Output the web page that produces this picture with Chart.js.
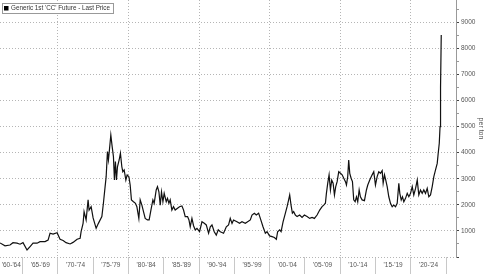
<!DOCTYPE html>
<html>
<head>
<meta charset="utf-8">
<script src="https://cdn.jsdelivr.net/npm/chart.js@4.4.1/dist/chart.umd.min.js"></script>
<style>
  html, body { margin: 0; padding: 0; background: #fff; }
  #wrap { width: 485px; height: 274px; position: relative; }
</style>
</head>
<body>
<div id="wrap"><canvas id="cocoaChart"></canvas></div>
<script>
// Generic 1st 'CC' Future - Last Price, USD per ton
const legendText = "Generic 1st 'CC' Future - Last Price";

const years = [
  1961.80, 1962.51, 1963.22, 1963.64, 1964.21, 1964.64, 1965.06, 1965.63, 1966.06, 1966.48,
  1967.05, 1967.47, 1968.18, 1968.61, 1968.89, 1969.32, 1969.89, 1970.31, 1970.74, 1971.16,
  1971.73, 1972.15, 1972.72, 1973.15, 1973.29, 1973.57, 1973.71, 1974.00, 1974.28, 1974.42,
  1974.71, 1974.99, 1975.42, 1975.74, 1976.23, 1976.45, 1976.69, 1976.84, 1977.02, 1977.16,
  1977.30, 1977.50, 1977.69, 1977.87, 1978.01, 1978.15, 1978.30, 1978.44, 1978.68, 1978.86,
  1979.06, 1979.20, 1979.39, 1979.63, 1979.81, 1980.06, 1980.24, 1980.42, 1980.71, 1980.99,
  1981.19, 1981.47, 1981.66, 1981.90, 1982.13, 1982.37, 1982.69, 1982.93, 1983.18, 1983.46,
  1983.64, 1983.93, 1984.11, 1984.31, 1984.50, 1984.68, 1984.88, 1985.06, 1985.35, 1985.53,
  1985.73, 1985.91, 1986.15, 1986.38, 1986.62, 1986.95, 1987.23, 1987.57, 1987.80, 1988.04,
  1988.37, 1988.57, 1988.75, 1988.99, 1989.22, 1989.46, 1989.70, 1990.07, 1990.41, 1990.74,
  1991.02, 1991.35, 1991.59, 1991.83, 1992.15, 1992.44, 1992.72, 1993.01, 1993.47, 1993.86,
  1994.18, 1994.42, 1994.67, 1994.89, 1995.37, 1995.74, 1996.08, 1996.55, 1996.88, 1997.26,
  1997.50, 1997.83, 1998.11, 1998.44, 1998.68, 1999.06, 1999.39, 1999.63, 1999.99, 2000.34,
  2000.67, 2000.95, 2001.13, 2001.42, 2001.62, 2001.90, 2002.23, 2002.47, 2002.69, 2002.84,
  2003.03, 2003.22, 2003.40, 2003.64, 2003.89, 2004.25, 2004.59, 2004.92, 2005.30, 2005.67,
  2006.01, 2006.34, 2006.72, 2007.09, 2007.43, 2007.66, 2007.90, 2008.04, 2008.23, 2008.42,
  2008.61, 2008.79, 2008.99, 2009.18, 2009.36, 2009.56, 2009.79, 2010.03, 2010.27, 2010.50,
  2010.74, 2010.88, 2011.06, 2011.20, 2011.35, 2011.54, 2011.73, 2011.91, 2012.11, 2012.30,
  2012.48, 2012.68, 2012.86, 2013.10, 2013.43, 2013.71, 2013.90, 2014.18, 2014.52, 2014.75,
  2014.99, 2015.23, 2015.46, 2015.70, 2015.94, 2016.08, 2016.27, 2016.45, 2016.65, 2016.88,
  2017.12, 2017.36, 2017.59, 2017.83, 2018.07, 2018.30, 2018.44, 2018.64, 2018.82, 2019.01,
  2019.25, 2019.49, 2019.72, 2019.96, 2020.20, 2020.42, 2020.67, 2020.91, 2021.13, 2021.37,
  2021.61, 2021.84, 2022.08, 2022.32, 2022.55, 2022.79, 2023.03, 2023.26, 2023.50, 2023.74,
  2023.88, 2024.03, 2024.14, 2024.21, 2024.31
];

const prices = [
  540, 430, 460, 550, 530, 490, 550, 270, 400, 530,
  530, 590, 590, 650, 910, 880, 930, 680, 630, 550,
  500, 560, 680, 720, 970, 1290, 1740, 1420, 2190, 1800,
  1930, 1500, 1100, 1290, 1550, 2060, 2700, 3080, 4040, 3720,
  4100, 4680, 4230, 3850, 2950, 3660, 2950, 3460, 3720, 3980,
  3460, 3270, 3340, 2950, 3150, 3080, 2760, 2190, 2120, 2060,
  1930, 1480, 2190, 1990, 1740, 1480, 1420, 1420, 1800, 2190,
  2060, 2570, 2700, 2500, 1990, 2500, 2120, 2440, 2120, 2250,
  2060, 2190, 1800, 1930, 1800, 1870, 1930, 1960, 1800, 1550,
  1550, 1420, 1160, 1480, 1200, 1040, 1100, 970, 1350, 1290,
  1230, 910, 1160, 1230, 970, 840, 1040, 970, 910, 1160,
  1230, 1480, 1290, 1420, 1350, 1290, 1350, 1290, 1350, 1420,
  1610, 1680, 1610, 1680, 1480, 1160, 910, 970, 810, 780,
  750, 680, 970, 1040, 970, 1350, 1680, 1930, 2190, 2380,
  1990, 1680, 1740, 1610, 1550, 1610, 1520, 1610, 1550, 1480,
  1520, 1480, 1610, 1800, 1930, 1990, 2060, 2440, 2830, 3150,
  2570, 2950, 2830, 2380, 2700, 2890, 3270, 3210, 3150, 3020,
  2890, 2760, 3080, 3720, 3210, 3020, 2890, 2190, 2120, 2310,
  2120, 2570, 2310, 2190, 2160, 2570, 2760, 2950, 3150, 3270,
  2760, 3080, 3270, 3210, 3310, 2830, 3150, 2950, 2700, 2310,
  2060, 1930, 1990, 1930, 2060, 2830, 2440, 2190, 2310, 2120,
  2250, 2440, 2310, 2440, 2700, 2380, 2630, 2950, 2380, 2570,
  2440, 2570, 2440, 2630, 2310, 2380, 2700, 3080, 3340, 3590,
  3980, 4360, 5000, 6500, 8510
];

// x-axis periods: one label per five years, centred in the visible part of its slot
const periodStarts = [1960, 1965, 1970, 1975, 1980, 1985, 1990, 1995, 2000, 2005, 2010, 2015, 2020];
const periodLabels = ["'60-'64", "'65-'69", "'70-'74", "'75-'79", "'80-'84", "'85-'89", "'90-'94",
                      "'95-'99", "'00-'04", "'05-'09", "'10-'14", "'15-'19", "'20-'24"];
const periodEnds = [1965, 1970, 1975, 1980, 1985, 1990, 1995, 2000, 2005, 2010, 2015, 2020, 2025];

// y-axis labels
const priceTicks = [1000, 2000, 3000, 4000, 5000, 6000, 7000, 8000, 9000];

const FONT = '"Liberation Sans", Arial, sans-serif';
const xMin = 1961.8, xMax = 2026.4;

const labelPos = periodStarts.map((s, i) => (Math.max(s, xMin) + Math.min(periodEnds[i], xMax)) / 2);

// white framed legend in the top left corner
const legendBox = {
    id: 'legendBox',
    afterDraw(chart) {
        const ctx = chart.ctx;
        ctx.save();
        ctx.font = '6.3px ' + FONT;
        const tw = ctx.measureText(legendText).width;
        const x = 2, y = 3, h = 10, w = tw + 12;
        ctx.fillStyle = '#fff';
        ctx.fillRect(x, y, w, h);
        ctx.strokeStyle = '#999';
        ctx.lineWidth = 1;
        ctx.strokeRect(x + 0.5, y + 0.5, w, h);
        ctx.fillStyle = '#000';
        ctx.fillRect(x + 2, y + 3, 4.5, 4.5);
        ctx.fillStyle = '#333';
        ctx.textBaseline = 'middle';
        ctx.fillText(legendText, x + 9, y + h / 2 + 0.5);
        ctx.restore();
    }
};

const ctx = document.getElementById('cocoaChart').getContext('2d');
const chart = new Chart(ctx, {
    type: 'line',
    data: {
        datasets: [{
            label: legendText,
            data: years.map((yr, i) => ({ x: yr, y: prices[i] })),
            borderColor: '#111',
            backgroundColor: '#000',
            borderWidth: 1.2,
            pointRadius: 0,
            tension: 0,
            fill: false
        }]
    },
    options: {
        responsive: true,
        maintainAspectRatio: false,
        animation: false,
        layout: { padding: 0 },
        plugins: {
            legend: { display: false },
            tooltip: { enabled: false }
        },
        scales: {
            x: {
                type: 'linear',
                position: 'bottom',
                min: xMin,
                max: xMax,
                afterBuildTicks: scale => {
                    const t = [];
                    periodStarts.forEach((s, i) => {
                        t.push({ value: labelPos[i] });
                        if (periodEnds[i] >= xMin && periodEnds[i] <= xMax) t.push({ value: periodEnds[i] });
                    });
                    scale.ticks = t;
                },
                afterFit: scale => {
                    scale.height = 17;
                    scale.paddingLeft = 0;
                    scale.paddingRight = 0;
                },
                border: { display: false, dash: [1, 2] },
                grid: {
                    color: c => (c.tick && c.tick.value % 10 === 0) ? '#b5b5b5' : 'rgba(0,0,0,0)',
                    lineWidth: 1,
                    tickLength: 17,
                    tickWidth: 1,
                    tickColor: c => (c.tick && c.tick.value % 5 === 0) ? '#c8c8c8' : 'rgba(0,0,0,0)'
                },
                ticks: {
                    autoSkip: false,
                    maxRotation: 0,
                    minRotation: 0,
                    padding: -13,
                    color: '#555',
                    font: { family: FONT, size: 6.5 },
                    callback: v => {
                        const i = labelPos.indexOf(v);
                        return i >= 0 ? periodLabels[i] : '';
                    }
                }
            },
            y: {
                position: 'right',
                min: 0,
                max: 9855,
                afterBuildTicks: scale => {
                    const t = [];
                    for (let v = 0; v <= 9500; v += 500) t.push({ value: v });
                    scale.ticks = t;
                },
                afterFit: scale => {
                    scale.width = 29;
                    scale.paddingTop = 0;
                    scale.paddingBottom = 0;
                },
                border: { display: true, color: '#999', width: 1, dash: [1, 2] },
                grid: {
                    color: c => (c.tick && c.tick.value % 1000 === 0) ? '#b5b5b5' : 'rgba(0,0,0,0)',
                    lineWidth: 1,
                    tickLength: 3,
                    tickColor: c => (c.tick && c.tick.value % 1000 === 0) ? '#444' : '#999'
                },
                ticks: {
                    padding: 2,
                    color: '#555',
                    font: { family: FONT, size: 6.5 },
                    callback: v => priceTicks.includes(v) ? String(v) : ''
                },
                title: {
                    display: true,
                    text: 'per ton',
                    color: '#555',
                    font: { family: FONT, size: 7 },
                    padding: { top: 0, bottom: 0 }
                }
            }
        }
    },
    plugins: [legendBox]
});
</script>
</body>
</html>
